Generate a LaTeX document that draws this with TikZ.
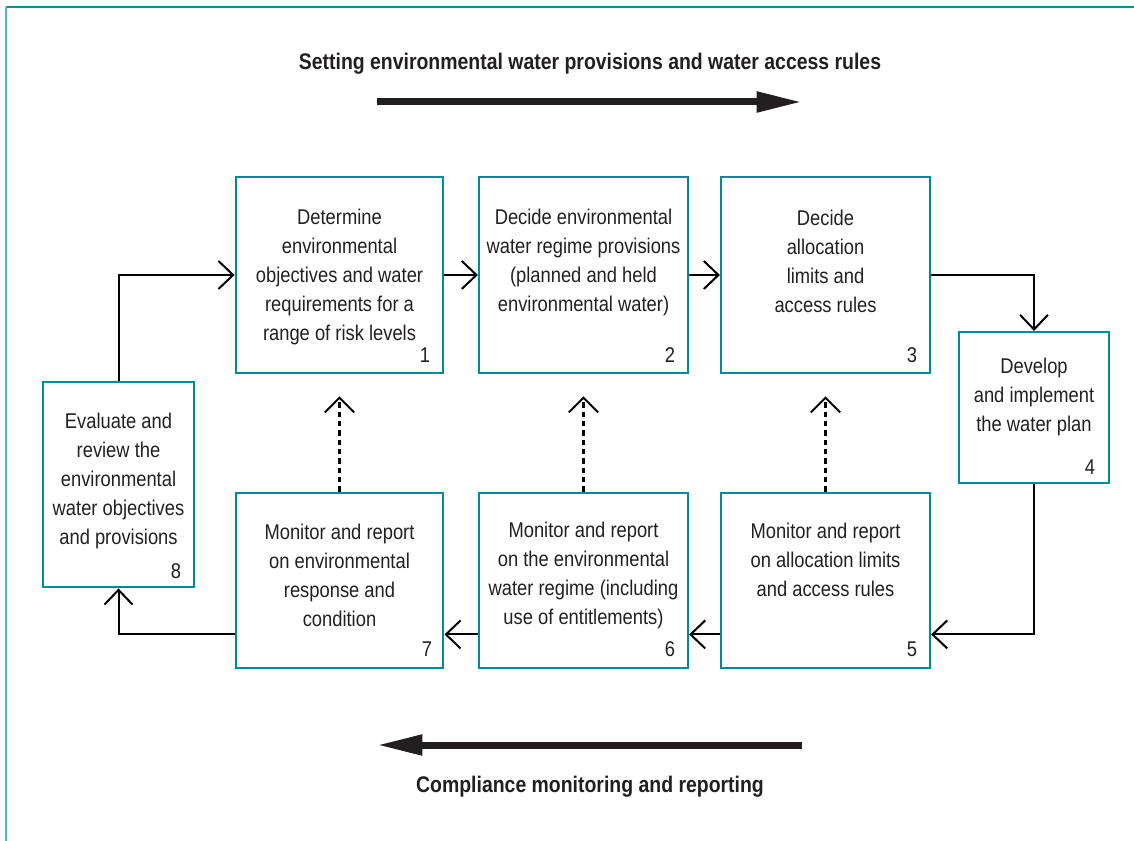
\documentclass[tikz,border=0pt]{standalone}
\usepackage{fontspec}
\setmainfont{Liberation Sans}[FakeStretch=0.86]
\usetikzlibrary{arrows.meta}
\definecolor{boxteal}{RGB}{0,139,153}
\definecolor{topteal}{RGB}{30,135,150}
\definecolor{leftteal}{RGB}{70,185,198}
\definecolor{ink}{RGB}{35,31,32}
\tikzset{
  box/.style={draw=boxteal, line width=1.9pt, rectangle, inner sep=0pt},
  txt/.style={align=center, font=\fontsize{16pt}{21.75pt}\selectfont, text=ink, inner sep=0pt},
  num/.style={font=\fontsize{16pt}{18pt}\selectfont, text=ink, inner sep=0pt},
  conn/.style={draw=black, line width=1.5pt, -{Straight Barb[length=11pt,width=21pt,line width=1.5pt]}},
  dconn/.style={draw=black, line width=1.8pt, dash pattern=on 4pt off 3pt, -{Straight Barb[length=11pt,width=22pt,line width=1.5pt]}},
  bigarrow/.style={draw=ink, line width=5.25pt, -{Triangle[length=34pt,width=14.5pt]}},
  title/.style={font=\bfseries\fontsize{16.95pt}{20pt}\selectfont, text=ink, inner sep=0pt}
}
\begin{document}
\begin{tikzpicture}[x=0.75pt,y=-0.75pt]
\useasboundingbox (0,0) rectangle (1134,841);
% frame
\draw[topteal, line width=1.5pt] (6,7) -- (1134,7);
\draw[leftteal, line width=1.5pt] (6,7) -- (6,841);

% boxes
\node[box, minimum width=155.5pt, minimum height=147pt] (b1) at (339.5,275) {};
\node[box, minimum width=156.5pt, minimum height=147pt] (b2) at (583.5,275) {};
\node[box, minimum width=156.5pt, minimum height=147pt] (b3) at (825.5,275) {};
\node[box, minimum width=112.5pt, minimum height=113pt] (b4) at (1034,407.5) {};
\node[box, minimum width=156.5pt, minimum height=131.5pt] (b5) at (825.5,580.5) {};
\node[box, minimum width=156.5pt, minimum height=131.5pt] (b6) at (583.5,580.5) {};
\node[box, minimum width=155.5pt, minimum height=131.5pt] (b7) at (339.5,580.5) {};
\node[box, minimum width=113pt, minimum height=154pt] (b8) at (118.5,484.5) {};

% texts
\node[txt] (t1) at (339.5,277) {Determine\\environmental\\objectives and water\\requirements for a\\range of risk levels};
\node[txt] (t2) at (583.5,262.5) {Decide environmental\\water regime provisions\\(planned and held\\environmental water)};
\node[txt] (t3) at (825.5,261.5) {Decide\\allocation\\limits and\\access rules};
\node[txt] (t4) at (1034,396.5) {Develop\\and implement\\the water plan};
\node[txt] (t5) at (825.5,560) {Monitor and report\\on allocation limits\\and access rules};
\node[txt] (t6) at (583.5,575.5) {Monitor and report\\on the environmental\\water regime (including\\use of entitlements)};
\node[txt] (t7) at (339.5,575) {Monitor and report\\on environmental\\response and\\condition};
\node[txt] (t8) at (118.5,481) {Evaluate and\\review the\\environmental\\water objectives\\and provisions};

% numbers
\node[num] (n1) at (425,355) {1};
\node[num] (n2) at (670,355) {2};
\node[num] (n3) at (912,355) {3};
\node[num] (n4) at (1090,467) {4};
\node[num] (n5) at (912,649) {5};
\node[num] (n6) at (670,649) {6};
\node[num] (n7) at (427,649) {7};
\node[num] (n8) at (176,571) {8};

% connectors
\draw[conn] (b8.north) |- (b1.west);
\draw[conn] (b1.east) -- (b2.west);
\draw[conn] (b2.east) -- (b3.west);
\draw[conn] (b3.east) -| (b4.north);
\draw[conn] (b4.south) |- ([shift={(0,-35)}]b5.south east);
\draw[conn] ([shift={(0,-35)}]b5.south west) -- ([shift={(0,-35)}]b6.south east);
\draw[conn] ([shift={(0,-35)}]b6.south west) -- ([shift={(0,-35)}]b7.south east);
\draw[conn] ([shift={(0,-35)}]b7.south west) -| (b8.south);

% dashed
\draw[dconn] (b7.north) -- ([shift={(0,22)}]b1.south);
\draw[dconn] (b6.north) -- ([shift={(0,22)}]b2.south);
\draw[dconn] (b5.north) -- ([shift={(0,22)}]b3.south);

% big arrows and titles
\node[title] (top) at (590,64) {Setting environmental water provisions and water access rules};
\node[title] (bot) at (590,787) {Compliance monitoring and reporting};
\coordinate (ta) at (377,102);
\coordinate (tb) at (802,102);
\coordinate (ba) at (802,745);
\coordinate (bb) at (377,745);
\draw[bigarrow] (ta) -- (tb);
\draw[bigarrow] (ba) -- (bb);
\end{tikzpicture}
\end{document}
